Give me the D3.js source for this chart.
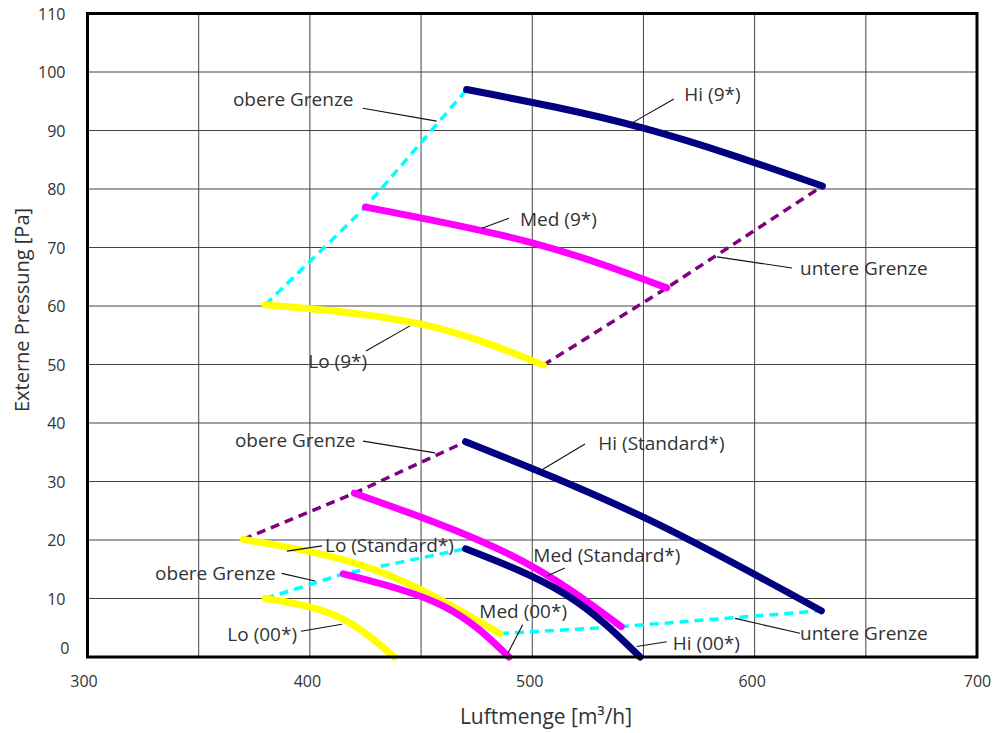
<!DOCTYPE html>
<html>
<head>
<meta charset="utf-8">
<script src="https://cdn.jsdelivr.net/npm/d3@7"></script>
<style>
  html, body { margin: 0; padding: 0; background: #fff; }
  svg { display: block; font-family: "Open Sans", "Noto Sans", sans-serif; }
</style>
</head>
<body>
<svg id="chart" width="998" height="733"></svg>
<script>
// ---------- data ----------
const xTicks = [300, 400, 500, 600, 700];
const yTicks = [0, 10, 20, 30, 40, 50, 60, 70, 80, 90, 100, 110];
const xGrid = [350, 400, 450, 500, 550, 600, 650];
const yGrid = [10, 20, 30, 40, 50, 60, 70, 80, 90, 100];

// curves [Luftmenge, Pressung]
const hi9    = [[470.5, 97], [550, 90.4], [630.5, 80.5]];
const med9   = [[425, 76.9], [500, 70.8], [560.5, 63.1]];
const lo9    = [[380, 60.2], [450, 56.9], [505, 49.9]];
const hiStd  = [[470, 36.8], [550, 23.9], [630, 7.9]];
const medStd = [[420, 28], [490, 17.5], [540, 5.2]];
const loStd  = [[370, 20.1], [430, 14.8], [485.5, 4]];
const hi00   = [[470, 18.5], [515, 10.7], [548.5, 0]];
const med00  = [[415, 14.2], [460, 8.7], [489.5, 0]];
const lo00   = [[380, 10], [412, 7], [438, 0]];

// limit lines (dashed)
const obere9    = [[380, 60.2], [425, 76.9], [470.5, 97]];
const untere9   = [[505, 49.9], [560.5, 63.1], [630.5, 80.5]];
const obereStd  = [[370, 20.1], [420, 28], [470, 36.8]];
const untereStd = [[485.5, 4], [540, 5.2], [630, 7.9]];
const obere00   = [[380, 10], [415, 14.2], [470, 18.5]];

// annotations
const annoText = ["obere Grenze", "Hi (9*)", "Med (9*)", "untere Grenze", "Lo (9*)",
                  "obere Grenze", "Hi (Standard*)", "Lo (Standard*)", "Med (Standard*)",
                  "obere Grenze", "Med (00*)", "Lo (00*)", "Hi (00*)", "untere Grenze"];
const annoX  = [365.4, 568.4, 494.5, 620.4, 399.3, 366.3, 529.7, 406.8, 500.5, 330.4, 476.2, 362.9, 563.2, 620.4];
const annoY  = [94.2, 95.1, 73.6, 65.3, 49.35, 35.95, 35.4, 18.0, 16.3, 13.2, 6.6, 2.7, 1.2, 2.9];
const leadX1 = [423.8, 563.7, 489.5, 616.8, 425.2, 423.9, 523.7, 405.5, 514.7, 387.3, 495.7, 396.0, 560.5, 620.4];
const leadY1 = [93.8, 95.4, 75.0, 66.5, 52.3, 36.9, 36.4, 19.0, 15.2, 14.3, 5.5, 4.4, 2.6, 4.05];
const leadX2 = [457.0, 544.9, 477.4, 583.1, 445.0, 456.3, 504.4, 389.7, 506.6, 402.3, 489.1, 414.4, 547.0, 591.2];
const leadY2 = [91.6, 91.3, 73.3, 68.4, 56.6, 34.9, 32.0, 18.1, 13.85, 13.0, 0.7, 5.6, 1.8, 6.6];

// ---------- drawing ----------
const svg = d3.select("#chart");
const x = d3.scaleLinear().domain([300, 700]).range([87.5, 977]);
const y = d3.scaleLinear().domain([0, 110]).range([657, 13.5]);

// grid
const grid = svg.append("g");
grid.selectAll(".vg").data(xGrid).enter().append("line")
  .attr("x1", d => x(d)).attr("x2", d => x(d))
  .attr("y1", y(110)).attr("y2", y(0))
  .attr("stroke", "#444").attr("stroke-width", 1);
grid.selectAll(".hg").data(yGrid).enter().append("line")
  .attr("x1", x(300)).attr("x2", x(700))
  .attr("y1", d => y(d)).attr("y2", d => y(d))
  .attr("stroke", "#444").attr("stroke-width", 1);

// axes labels via d3 axes
const yAxis = d3.axisLeft(y).tickValues(yTicks).tickSize(0).tickPadding(22);
const gy = svg.append("g").attr("transform", `translate(${x(300)},0)`).call(yAxis);
gy.select(".domain").remove();
gy.selectAll("text").attr("font-size", 16).attr("fill", "#333")
  .attr("font-family", "'Open Sans', sans-serif")
  .attr("dy", d => d === 0 ? "-0.22em" : "0.35em")
  .attr("dx", d => d === 0 ? 4 : 0);

const xAxis = d3.axisBottom(x).tickValues(xTicks).tickSize(0).tickPadding(19);
const gx = svg.append("g").attr("transform", `translate(0,${y(0)})`).call(xAxis);
gx.select(".domain").remove();
gx.selectAll("text").attr("font-size", 16).attr("fill", "#333")
  .attr("font-family", "'Open Sans', sans-serif")
  .attr("dx", d => d === 700 ? 0 : (d === 300 ? -4 : -3));

// axis titles
svg.append("text")
  .attr("x", 546).attr("y", 724)
  .attr("text-anchor", "middle").attr("font-size", 21).attr("fill", "#333")
  .text("Luftmenge [m³/h]");
svg.append("text")
  .attr("transform", "translate(29,310) rotate(-90)")
  .attr("text-anchor", "middle").attr("font-size", 20).attr("fill", "#333")
  .text("Externe Pressung [Pa]");

// dashed limit lines
const straight = d3.line().x(d => x(d[0])).y(d => y(d[1]));
const dashed = [
  {d: obere9, c: "#00FFFF"}, {d: untere9, c: "#800080"},
  {d: obereStd, c: "#800080"}, {d: untereStd, c: "#00FFFF"},
  {d: obere00, c: "#00FFFF"}
];
svg.append("g").selectAll("path").data(dashed).enter().append("path")
  .attr("d", d => straight(d.d))
  .attr("fill", "none").attr("stroke", d => d.c)
  .attr("stroke-width", 3.5).attr("stroke-dasharray", "9,6");

// curves
const curve = d3.line().x(d => x(d[0])).y(d => y(d[1])).curve(d3.curveNatural);
const curves = [
  {d: lo9, c: "#FFFF00"}, {d: med9, c: "#FF00FF"}, {d: hi9, c: "#000080"},
  {d: loStd, c: "#FFFF00"}, {d: medStd, c: "#FF00FF"}, {d: hiStd, c: "#000080"},
  {d: lo00, c: "#FFFF00"}, {d: med00, c: "#FF00FF"}, {d: hi00, c: "#000080"}
];
svg.append("g").selectAll("path").data(curves).enter().append("path")
  .attr("d", d => curve(d.d))
  .attr("fill", "none").attr("stroke", d => d.c)
  .attr("stroke-width", 7).attr("stroke-linecap", "round");

// annotations
const ann = svg.append("g");
annoText.forEach((t, i) => {
  ann.append("line")
    .attr("x1", x(leadX1[i])).attr("y1", y(leadY1[i]))
    .attr("x2", x(leadX2[i])).attr("y2", y(leadY2[i]))
    .attr("stroke", "#111").attr("stroke-width", 1.1);
  ann.append("text")
    .attr("x", x(annoX[i])).attr("y", y(annoY[i]))
    .attr("font-size", 19).attr("fill", "#333")
    .text(t);
});

// frame
svg.append("rect")
  .attr("x", x(300)).attr("y", y(110))
  .attr("width", x(700) - x(300)).attr("height", y(0) - y(110))
  .attr("fill", "none").attr("stroke", "#000").attr("stroke-width", 3);
</script>
</body>
</html>
